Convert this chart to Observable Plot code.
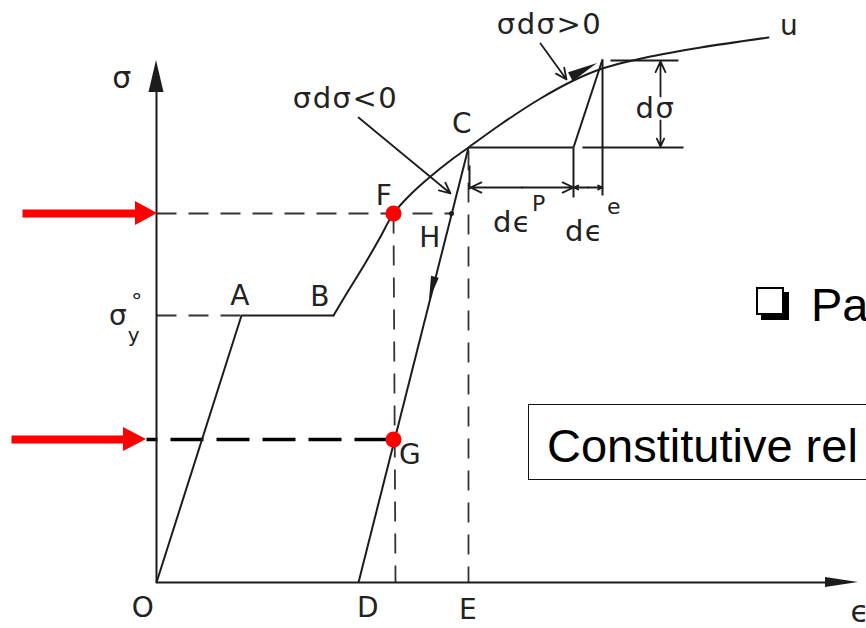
<!DOCTYPE html>
<html>
<head>
<meta charset="utf-8">
<script src="https://cdn.jsdelivr.net/npm/d3@7"></script>
<script src="https://cdn.jsdelivr.net/npm/@observablehq/plot@0.6"></script>
<style>
  html, body { margin: 0; padding: 0; background: #fff; }
  #page { position: relative; width: 866px; height: 628px; overflow: hidden; background: #fff; }
  #chart { position: absolute; left: 0; top: 0; }
  .slide { position: absolute; font-family: "Liberation Sans", Arial, sans-serif; font-size: 47px; line-height: 47px; color: #000; white-space: nowrap; }
  #check { position: absolute; left: 756px; top: 287px; width: 24px; height: 24px; border: 2px solid #000; box-shadow: 5px 5px 0 #000; background: #fff; }
  #bullet { left: 811px; top: 281px; }
  #frame { position: absolute; left: 528px; top: 404px; width: 420px; height: 74px; border: 1.5px solid #111; background: #fff; }
  #boxed { left: 547px; top: 422px; }
</style>
</head>
<body>
<div id="page">
  <div id="chart"></div>
  <div id="check"></div>
  <div class="slide" id="bullet">Pa</div>
  <div id="frame"></div>
  <div class="slide" id="boxed">Constitutive rel</div>
</div>
<script>
// Uniaxial stress–strain diagram: elastic branch, yield plateau, strain hardening,
// elastic unloading from C and the incremental decomposition dε = dεp + dεe.
// Strain ε and stress σ are in drawing units.

// Hardening curve from B through F and C up to u
const hardeningEps = [1.77, 1.92, 2.08, 2.23, 2.37, 2.54, 2.74, 2.94, 3.12, 3.44, 3.84, 4.17, 4.46, 4.94, 5.44, 6.12];
const hardeningSig = [2.67, 2.92, 3.18, 3.44, 3.69, 3.88, 4.06, 4.22, 4.35, 4.58, 4.84, 5.02, 5.14, 5.26, 5.35, 5.45];

// Named states [ε, σ]
const O = [0, 0];
const A = [0.85, 2.67];      // initial yield σy°
const B = [1.77, 2.67];      // end of yield plateau
const F = [2.37, 3.69];
const C = [3.12, 4.35];      // unloading point
const D = [2.02, 0];         // residual strain after unloading
const E = [3.12, 0];
const G = [2.37, 1.43];
const H = [2.95, 3.69];
const P = [4.46, 5.23];      // state after the increment dσ
const K = [4.17, 4.35];      // plastic part of the increment

const sigmaTop = 5.22, epsRight = 7.02;

// Label text and anchor positions [ε, σ]
const pointLabels = ["A", "B", "C", "F", "H", "G", "O", "D", "E", "u"];
const pointLabelEps = [0.84, 1.64, 3.06, 2.28, 2.74, 2.54, -0.13, 2.12, 3.12, 6.33];
const pointLabelSig = [2.86, 2.85, 4.58, 3.86, 3.44, 1.27, -0.26, -0.26, -0.28, 5.56];

const notes = ["σdσ<0", "σdσ>0", "dσ", "dϵ", "dϵ"];
const noteEps = [1.89, 3.93, 4.99, 3.56, 4.28];
const noteSig = [4.84, 5.58, 4.74, 3.60, 3.51];

const supers = ["P", "e"];
const superEps = [3.83, 4.58];
const superSig = [3.79, 3.76];

const row = (x, y) => ({x, y});
const seg = (a, b) => ({x1: a[0], y1: a[1], x2: b[0], y2: b[1]});

// Filled arrowhead as a two-row area (base edge → tip)
function head(id, tip, from, len, wid) {
  const dx = tip[0] - from[0], dy = tip[1] - from[1], n = Math.hypot(dx, dy);
  const ux = dx / n, uy = dy / n;
  const bx = tip[0] - ux * len, by = tip[1] - uy * len;
  const px = -uy * wid / 2, py = ux * wid / 2;
  return [
    {id, x1: bx + px, y1: by + py, x2: bx - px, y2: by - py},
    {id, x1: tip[0], y1: tip[1], x2: tip[0], y2: tip[1]}
  ];
}

const curve = hardeningEps.map((e, i) => row(e, hardeningSig[i]));
const elasticPlastic = [O, A, B].map(p => row(p[0], p[1]));

const solidSegs = [
  seg(O, [0, sigmaTop - 0.2]),            // σ axis
  seg(O, [epsRight - 0.2, 0]),            // ε axis
  seg(C, D),                              // unloading
  seg(C, K),
  seg([K[0] + 0.09, C[1]], [5.27, C[1]]),
  seg(K, P),
  seg(P, [P[0], 3.87]),
  seg(K, [K[0], 3.85]),
  seg([3.13, 4.17], [3.13, 3.93]),
  seg([P[0] + 0.08, 5.22], [5.22, 5.22])
];

const dashedSegs = [
  seg([0, A[1]], A),
  seg([0, F[1]], H),
  seg(F, [F[0] + 0.02, 0]),
  seg([C[0], C[1] - 0.03], E)
];

const dimY = 3.95, dimX = 5.04;
const openArrows = [
  seg([2.02, 4.65], [2.94, 3.89]),
  seg([3.84, 5.39], [4.10, 5.03]),
  seg([dimX, 4.86], [dimX, 5.21]),
  seg([dimX, 4.62], [dimX, 4.36]),
  seg([(3.14 + K[0]) / 2, dimY], [3.14, dimY]),
  seg([(3.14 + K[0]) / 2, dimY], [K[0], dimY]),
  seg([(K[0] + P[0]) / 2, dimY], [K[0] + 0.005, dimY]),
  seg([(K[0] + P[0]) / 2, dimY], [P[0], dimY])
];

const darkHeads = [
  ...head("sigma", [0, sigmaTop], O, 0.32, 0.15),
  ...head("eps", [epsRight, 0], O, 0.33, 0.10),
  ...head("unload", [2.73, 2.82], C, 0.24, 0.08),
  ...head("load", [4.41, 5.19], [4.14, 5.05], 0.30, 0.10)
];

const redShafts = [seg([-1.34, F[1]], [-0.20, F[1]]), seg([-1.45, G[1]], [-0.32, G[1]])];
const redHeads = [
  ...head("upper", [0.01, F[1]], [-1.34, F[1]], 0.22, 0.24),
  ...head("lower", [-0.10, G[1]], [-1.45, G[1]], 0.23, 0.24)
];

const ink = "#1c1c1c";
const font = "DejaVu Sans";

const chart = Plot.plot({
  width: 866,
  height: 628,
  margin: 0,
  style: {letterSpacing: "1.5px"},
  x: {domain: [-1.56, 7.10], axis: null},
  y: {domain: [-0.46, 5.82], axis: null},
  marks: [
    Plot.link(dashedSegs, {x1: "x1", y1: "y1", x2: "x2", y2: "y2", stroke: "#333", strokeWidth: 1.8, strokeDasharray: "20,12"}),
    Plot.link([seg([-0.10, G[1]], G)], {x1: "x1", y1: "y1", x2: "x2", y2: "y2", stroke: "#000", strokeWidth: 3.4, strokeDasharray: "33,13", strokeDashoffset: 22}),
    Plot.link(solidSegs, {x1: "x1", y1: "y1", x2: "x2", y2: "y2", stroke: ink, strokeWidth: 2}),
    Plot.line(elasticPlastic, {x: "x", y: "y", stroke: ink, strokeWidth: 2}),
    Plot.line(curve, {x: "x", y: "y", stroke: ink, strokeWidth: 2, curve: "catmull-rom"}),
    Plot.arrow(openArrows, {x1: "x1", y1: "y1", x2: "x2", y2: "y2", stroke: ink, strokeWidth: 1.8, headLength: 10, headAngle: 50}),
    Plot.area(darkHeads, {x1: "x1", y1: "y1", x2: "x2", y2: "y2", z: "id", fill: ink}),
    Plot.link(redShafts, {x1: "x1", y1: "y1", x2: "x2", y2: "y2", stroke: "#ff0000", strokeWidth: 8}),
    Plot.area(redHeads, {x1: "x1", y1: "y1", x2: "x2", y2: "y2", z: "id", fill: "#ff0000"}),
    Plot.dot([H], {x: d => d[0], y: d => d[1], r: 2.5, fill: ink}),
    Plot.dot([F, G], {x: d => d[0], y: d => d[1], r: 8, fill: "#ff0000"}),
    Plot.text(pointLabels, {x: (d, i) => pointLabelEps[i], y: (d, i) => pointLabelSig[i], text: d => d, fontSize: 28, fontFamily: font, fill: "#222"}),
    Plot.text(notes, {x: (d, i) => noteEps[i], y: (d, i) => noteSig[i], text: d => d, fontSize: 29, fontFamily: font, fill: "#222"}),
    Plot.text(supers, {x: (d, i) => superEps[i], y: (d, i) => superSig[i], text: d => d, fontSize: 22, fontFamily: font, fill: "#222"}),
    // axis labels: σ, σy° and ϵ
    Plot.text(["σ"], {x: -0.34, y: 5.04, text: d => d, fontSize: 30, fontFamily: font, fill: "#222"}),
    Plot.text(["σ"], {x: -0.38, y: 2.66, text: d => d, fontSize: 28, fontFamily: font, fill: "#222"}),
    Plot.text(["°"], {x: -0.19, y: 2.81, text: d => d, fontSize: 22, fontFamily: font, fill: "#222"}),
    Plot.text(["y"], {x: -0.22, y: 2.47, text: d => d, fontSize: 20, fontFamily: font, fill: "#222"}),
    Plot.text(["ϵ"], {x: 7.04, y: -0.30, text: d => d, fontSize: 30, fontFamily: font, fill: "#222"})
  ]
});

document.getElementById("chart").appendChild(chart);
</script>
</body>
</html>
